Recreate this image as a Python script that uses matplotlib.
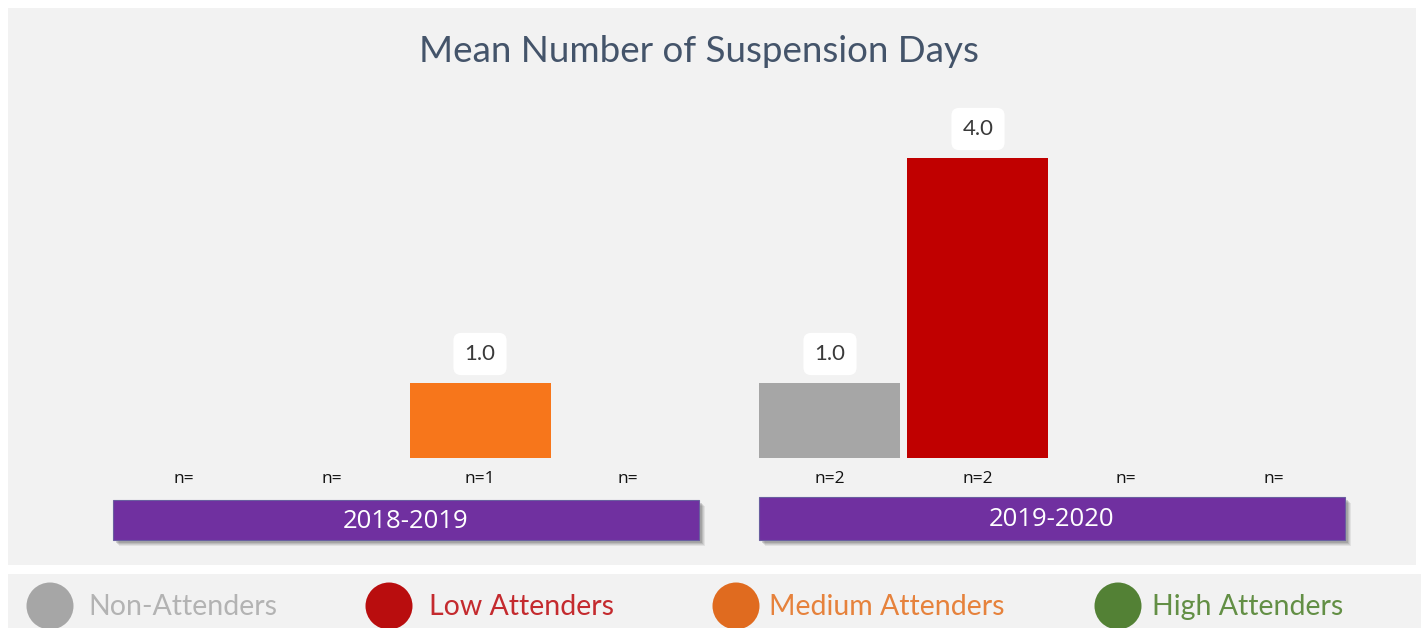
import numpy as np
import matplotlib
matplotlib.use("Agg")
import matplotlib.pyplot as plt
from matplotlib.patches import Rectangle, Ellipse

# ---------------- data ----------------
title = "Mean Number of Suspension Days"
groups = ["2018-2019", "2019-2020"]
categories = ["Non-Attenders", "Low Attenders", "Medium Attenders", "High Attenders"]
means_2018 = [np.nan, np.nan, 1.0, np.nan]
means_2019 = [1.0, 4.0, np.nan, np.nan]
n_2018 = ["", "", "1", ""]
n_2019 = ["2", "2", "", ""]

bar_colors = ["#a6a6a6", "#c00000", "#f7761b", "#548235"]
dot_colors = ["#a6a6a6", "#b90d0e", "#e06b1f", "#538135"]
text_colors = ["#b3b3b3", "#c42a2e", "#e6823c", "#638f45"]

# ---------------- layout (pixel geometry) ----------------
W, H = 1421, 628
SLOT = 148.0        # px per category slot
X0 = 184.0          # px of first slot centre
Y0 = 458.0          # px of baseline
UNIT = 75.0         # px per data unit
GROUP_OFF = (830 - 184) / SLOT

fig = plt.figure(figsize=(W / 100, H / 100), dpi=100)
fig.patch.set_facecolor("white")

def fx(px):
    return px / W

def fy(py):
    return 1 - py / H

# panels
fig.patches.append(Rectangle((fx(8), fy(565)), fx(1416) - fx(8), fy(8) - fy(565),
                             transform=fig.transFigure, fc="#f2f2f2", ec="none", zorder=-5))
fig.patches.append(Rectangle((fx(8), fy(628)), fx(1421) - fx(8), fy(574) - fy(628),
                             transform=fig.transFigure, fc="#f2f2f2", ec="none", zorder=-5))

ax = fig.add_axes([0, 0, 1, 1])
ax.set_zorder(1)
ax.set_facecolor("none")
ax.set_xlim(-X0 / SLOT, (W - X0) / SLOT)
ax.set_ylim(-(H - Y0) / UNIT, Y0 / UNIT)
ax.axis("off")

def dy(py):
    return (Y0 - py) / UNIT

fig.text(0.5 - 0.008, fy(51), title, ha="center", va="center", fontsize=26.5,
         color="#44546a", family="Lato", zorder=3)

all_means = [means_2018, means_2019]
all_n = [n_2018, n_2019]
band_tops = [500, 497]
for g, (grp, means, ns) in enumerate(zip(groups, all_means, all_n)):
    xs = g * GROUP_OFF + np.arange(len(categories))
    vals = np.nan_to_num(np.array(means, dtype=float))
    ax.bar(xs, vals, width=141 / SLOT, color=bar_colors, edgecolor="none", zorder=3)
    for x, v in zip(xs, means):
        if not np.isnan(v):
            ax.text(x, v + 29 / UNIT, f"{v:.1f}", ha="center", va="center", fontsize=16,
                    family="Lato", color="#3a3a3a", zorder=5,
                    bbox=dict(boxstyle="round,pad=0.5,rounding_size=0.35", fc="white", ec="none"))
    for x, n in zip(xs, ns):
        ax.text(x, dy(479), f"n={n}", ha="center", va="center", fontsize=12.5,
                family="Open Sans", color="#111111", zorder=5)
    # purple band with shadow
    left = xs[0] - 71 / SLOT
    right = xs[-1] + 71 / SLOT
    top = dy(band_tops[g])
    bot = dy(540)
    for k, a in enumerate([0.10, 0.12, 0.16, 0.22]):
        off = (5 - k)
        ax.add_patch(Rectangle((left + (off + 1) / SLOT, bot - (off + 1) / UNIT),
                               right - left, top - bot, fc="#555555", ec="none",
                               alpha=a, zorder=2))
    ax.add_patch(Rectangle((left, bot), right - left, top - bot, fc="#7030a0",
                           ec="#6a5fa0", lw=0.8, zorder=4))
    ax.text((left + right) / 2, (top + bot) / 2 - 1.5 / UNIT, grp, ha="center", va="center",
            fontsize=18.5, family="Open Sans", color="white", zorder=6)

# legend
dot_px = [50, 389, 736, 1118]
label_px = [88, 429, 769, 1152]
for px, lx, cat, dc, tc in zip(dot_px, label_px, categories, dot_colors, text_colors):
    fig.patches.append(Ellipse((fx(px), fy(606)), 47 / W, 47 / H,
                       transform=fig.transFigure, fc=dc, ec="none", zorder=3))
    fig.text(fx(lx), fy(607), cat, ha="left", va="center", fontsize=20.5,
             family="Lato", color=tc, zorder=4)

fig.savefig("out.png", dpi=100, facecolor="white")
